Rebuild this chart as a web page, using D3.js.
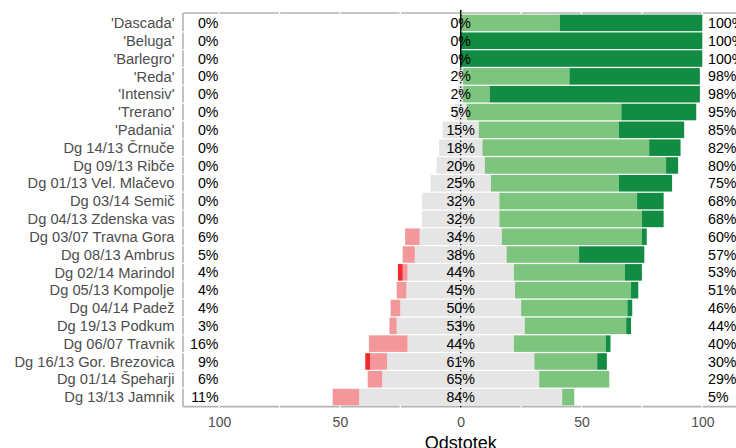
<!DOCTYPE html>
<html>
<head>
<meta charset="utf-8">
<script src="https://cdn.jsdelivr.net/npm/d3@7/dist/d3.min.js"></script>
<style>
  html, body { margin: 0; padding: 0; background: #fff; }
  svg { display: block; font-family: "Liberation Sans", Arial, sans-serif; }
</style>
</head>
<body>
<svg id="chart" width="736" height="448"></svg>
<script>
const categories = ["'Dascada'", "'Beluga'", "'Barlegro'", "'Reda'", "'Intensiv'", "'Trerano'", "'Padania'",
  "Dg 14/13 Črnuče", "Dg 09/13 Ribče", "Dg 01/13 Vel. Mlačevo", "Dg 03/14 Semič", "Dg 04/13 Zdenska vas",
  "Dg 03/07 Travna Gora", "Dg 08/13 Ambrus", "Dg 02/14 Marindol", "Dg 05/13 Kompolje", "Dg 04/14 Padež",
  "Dg 19/13 Podkum", "Dg 06/07 Travnik", "Dg 16/13 Gor. Brezovica", "Dg 01/14 Špeharji", "Dg 13/13 Jamnik"];
const darkRed    = [0, 0, 0, 0, 0, 0, 0, 0, 0, 0, 0, 0, 0, 0, 2, 0, 0, 0, 0, 2, 0, 0];
const lightRed   = [0, 0, 0, 0, 0, 0, 0, 0, 0, 0, 0, 0, 6, 5, 2, 4, 4, 3, 16, 7, 6, 11];
const neutral    = [0, 0, 0, 2, 2, 5, 15, 18, 20, 25, 32, 32, 34, 38, 44, 45, 50, 53, 44, 61, 65, 84];
const lightGreen = [41, 0, 0, 44, 11, 64, 58, 69, 75, 53, 57, 59, 58, 30, 46, 48, 44, 42, 38, 26, 29, 5];
const darkGreen  = [59, 100, 100, 54, 87, 31, 27, 13, 5, 22, 11, 9, 2, 27, 7, 3, 2, 2, 2, 4, 0, 0];
const xTicks = [-100, -50, 0, 50, 100];
const xGrid = [-100, -75, -50, -25, 25, 50, 75, 100];

const colors = { darkRed: "#ee2a2e", lightRed: "#f4979b", neutral: "#e5e5e5", lightGreen: "#7dc47e", darkGreen: "#128c43" };

const svg = d3.select("#chart");
const x = d3.scaleLinear().domain([-100, 100]).range([219.1, 702.3]);
const y = d3.scaleBand().domain(categories).range([14, 406]).paddingInner(0.07).paddingOuter(0.035);

const panelTop = 13, panelBottom = 406.6, panelLeft = 183, panelRight = 760;

// bars
const rows = categories.map((c, i) => {
  const n = neutral[i];
  const segs = [];
  let pos = n / 2;
  segs.push({ x0: -n / 2, x1: n / 2, col: colors.neutral });
  segs.push({ x0: pos, x1: pos + lightGreen[i], col: colors.lightGreen }); pos += lightGreen[i];
  segs.push({ x0: pos, x1: pos + darkGreen[i], col: colors.darkGreen });
  let neg = -n / 2;
  segs.push({ x0: neg - lightRed[i], x1: neg, col: colors.lightRed }); neg -= lightRed[i];
  segs.push({ x0: neg - darkRed[i], x1: neg, col: colors.darkRed });
  return { c, i, segs };
});

const g = svg.append("g");
rows.forEach(r => {
  g.selectAll(null).data(r.segs.filter(s => s.x1 > s.x0)).enter().append("rect")
    .attr("x", s => x(s.x0)).attr("width", s => x(s.x1) - x(s.x0))
    .attr("y", y(r.c)).attr("height", y.bandwidth())
    .attr("fill", s => s.col);
});

// panel border (top, bottom, left)
const border = svg.append("g").attr("stroke", "#b3b3b3").attr("stroke-width", 1.6).attr("fill", "none");
border.append("line").attr("x1", panelLeft).attr("x2", panelRight).attr("y1", panelTop).attr("y2", panelTop);
border.append("line").attr("x1", panelLeft).attr("x2", panelRight).attr("y1", panelBottom).attr("y2", panelBottom);
border.append("line").attr("x1", panelLeft).attr("x2", panelLeft).attr("y1", panelTop).attr("y2", panelBottom);

// white gridline gaps
svg.append("g").selectAll("line").data(xGrid).enter().append("line")
  .attr("x1", d => x(d)).attr("x2", d => x(d)).attr("y1", panelTop - 1).attr("y2", panelTop + 1)
  .attr("stroke", "#fff").attr("stroke-width", 1.4);
svg.append("g").selectAll("line").data(xGrid).enter().append("line")
  .attr("x1", d => x(d)).attr("x2", d => x(d)).attr("y1", panelBottom - 1).attr("y2", panelBottom + 1)
  .attr("stroke", "#fff").attr("stroke-width", 1.4);
// gaps on left border between rows
svg.append("g").selectAll("line").data(categories.slice(1)).enter().append("line")
  .attr("x1", panelLeft - 1).attr("x2", panelLeft + 1)
  .attr("y1", d => y(d) - y.step() * y.paddingInner() / 2).attr("y2", d => y(d) - y.step() * y.paddingInner() / 2)
  .attr("stroke", "#fff").attr("stroke-width", 1.2);

// center line
svg.append("line").attr("x1", x(0)).attr("x2", x(0)).attr("y1", panelTop - 3).attr("y2", panelBottom + 1)
  .attr("stroke", "#000").attr("stroke-width", 1.3).attr("stroke-dasharray", "1.3,3.2");
rows.filter(r => neutral[r.i] === 0).forEach(r => {
  svg.append("line").attr("x1", x(0)).attr("x2", x(0))
    .attr("y1", r.i === 0 ? panelTop - 3 : y(r.c) - 1).attr("y2", y(r.c) + y.bandwidth() + 1)
    .attr("stroke", "#000").attr("stroke-width", 1.3);
});

// category labels
svg.append("g").selectAll("text").data(categories).enter().append("text")
  .attr("x", 174.5).attr("y", d => y(d) + y.bandwidth() / 2).attr("dy", "0.35em")
  .attr("text-anchor", "end").attr("fill", "#4d4d4d").attr("font-size", "14.7px").text(d => d);

// percentage labels
const pct = v => Math.round(v) + "%";
svg.append("g").selectAll("text").data(rows).enter().append("text")
  .attr("x", 218.5).attr("y", r => y(r.c) + y.bandwidth() / 2).attr("dy", "0.36em")
  .attr("text-anchor", "end").attr("fill", "#000").attr("font-size", "14.2px")
  .text(r => pct(darkRed[r.i] + lightRed[r.i]));
svg.append("g").selectAll("text").data(rows).enter().append("text")
  .attr("x", x(0)).attr("y", r => y(r.c) + y.bandwidth() / 2).attr("dy", "0.36em")
  .attr("text-anchor", "middle").attr("fill", "#000").attr("font-size", "14.2px")
  .text(r => pct(neutral[r.i]));
svg.append("g").selectAll("text").data(rows).enter().append("text")
  .attr("x", 708).attr("y", r => y(r.c) + y.bandwidth() / 2).attr("dy", "0.36em")
  .attr("text-anchor", "start").attr("fill", "#000").attr("font-size", "14.2px")
  .text(r => pct(lightGreen[r.i] + darkGreen[r.i]));

// x axis
const xAxis = d3.axisBottom(x).tickValues(xTicks).tickSize(0).tickPadding(0).tickFormat(d => Math.abs(d));
const ax = svg.append("g").attr("transform", `translate(0,${panelBottom})`).call(xAxis);
ax.select(".domain").remove();
ax.selectAll("text").attr("y", 20).attr("dy", "0").attr("fill", "#4d4d4d").attr("font-size", "14px")
  .attr("font-family", "Liberation Sans, Arial, sans-serif");

svg.append("text").attr("x", x(0)).attr("y", 449).attr("text-anchor", "middle")
  .attr("font-size", "18px").attr("fill", "#000").text("Odstotek");
</script>
</body>
</html>
